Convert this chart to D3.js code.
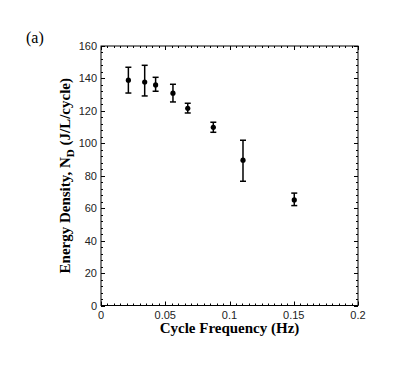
<!DOCTYPE html>
<html><head><meta charset="utf-8">
<script src="https://cdn.jsdelivr.net/npm/d3@7"></script>
<style>body{margin:0;background:#fff}</style>
</head><body>
<svg id="c" width="418" height="369"></svg>
<script>
const freq = [0.0213, 0.034, 0.0425, 0.056, 0.0675, 0.0874, 0.1105, 0.1504];
const energy = [138.9, 137.8, 136.0, 130.9, 121.6, 109.9, 89.6, 65.1];
const errHi = [146.9, 148.1, 140.7, 136.4, 124.7, 113.0, 101.9, 69.3];
const errLo = [131.0, 129.2, 132.1, 125.5, 118.7, 106.8, 76.6, 61.6];
const xTicks = [0, 0.05, 0.1, 0.15, 0.2];
const xTickLabels = ["0", "0.05", "0.1", "0.15", "0.2"];
const yTicks = [0, 20, 40, 60, 80, 100, 120, 140, 160];

const svg = d3.select("#c");
const L = 101, R = 358, T = 46, B = 305.5;
const x = d3.scaleLinear().domain([0, 0.2]).range([L, R]);
const y = d3.scaleLinear().domain([0, 160]).range([B, T]);
const sans = "Arial, 'Liberation Sans', sans-serif";
const serif = "'Times New Roman', 'Liberation Serif', serif";

// frame
svg.append("rect").attr("x", L).attr("y", T).attr("width", R - L).attr("height", B - T)
  .attr("fill", "none").attr("stroke", "#000").attr("stroke-width", 1);

const xMinor = d3.range(0, 0.2001, 0.005);
const yMinor = d3.range(0, 160.01, 4);
const g = svg.append("g").attr("stroke", "#000").attr("stroke-width", 1);
xMinor.forEach(v => {
  const major = xTicks.some(t => Math.abs(t - v) < 1e-9);
  const len = major ? 4 : 2;
  const px = Math.round(x(v)) + 0.5;
  g.append("line").attr("x1", px).attr("x2", px).attr("y1", B).attr("y2", B - len);
  g.append("line").attr("x1", px).attr("x2", px).attr("y1", T).attr("y2", T + len);
});
yMinor.forEach(v => {
  const major = yTicks.includes(Math.round(v));
  const len = major ? 4 : 2;
  const py = Math.round(y(v)) + 0.5;
  g.append("line").attr("x1", L).attr("x2", L + len).attr("y1", py).attr("y2", py);
  g.append("line").attr("x1", R).attr("x2", R - len).attr("y1", py).attr("y2", py);
});

// tick labels
svg.selectAll(".xt").data(xTicks).enter().append("text")
  .attr("x", d => x(d)).attr("y", 319).attr("text-anchor", "middle")
  .attr("font-family", sans).attr("font-size", 11).attr("fill", "#222")
  .text((d, i) => xTickLabels[i]);
svg.selectAll(".yt").data(yTicks).enter().append("text")
  .attr("x", 97).attr("y", d => y(d) + 4).attr("text-anchor", "end")
  .attr("font-family", sans).attr("font-size", 11).attr("fill", "#222")
  .text(d => d);

// error bars
const data = freq.map((f, i) => ({f, e: energy[i], hi: errHi[i], lo: errLo[i]}));
const eb = svg.append("g").attr("stroke", "#000").attr("stroke-width", 1.5);
data.forEach(d => {
  const px = x(d.f);
  eb.append("line").attr("x1", px).attr("x2", px).attr("y1", y(d.hi)).attr("y2", y(d.lo));
  eb.append("line").attr("x1", px - 3).attr("x2", px + 3).attr("y1", y(d.hi)).attr("y2", y(d.hi));
  eb.append("line").attr("x1", px - 3).attr("x2", px + 3).attr("y1", y(d.lo)).attr("y2", y(d.lo));
});
svg.selectAll(".pt").data(data).enter().append("circle")
  .attr("cx", d => x(d.f)).attr("cy", d => y(d.e)).attr("r", 2.6).attr("fill", "#000");

// axis titles
svg.append("text").attr("x", (L + R) / 2).attr("y", 333).attr("text-anchor", "middle")
  .attr("font-family", serif).attr("font-weight", "bold").attr("font-size", 15)
  .text("Cycle Frequency (Hz)");
const yl = svg.append("text").attr("transform", `translate(70,${(T + B) / 2}) rotate(-90)`)
  .attr("text-anchor", "middle").attr("font-family", serif).attr("font-weight", "bold").attr("font-size", 15);
yl.append("tspan").text("Energy Density, N");
yl.append("tspan").attr("dy", 4).attr("font-size", 11).text("D");
yl.append("tspan").attr("dy", -4).text(" (J/L/cycle)");

svg.append("text").attr("x", 26).attr("y", 43).attr("font-family", serif).attr("font-size", 16)
  .text("(a)");
</script>
</body></html>
